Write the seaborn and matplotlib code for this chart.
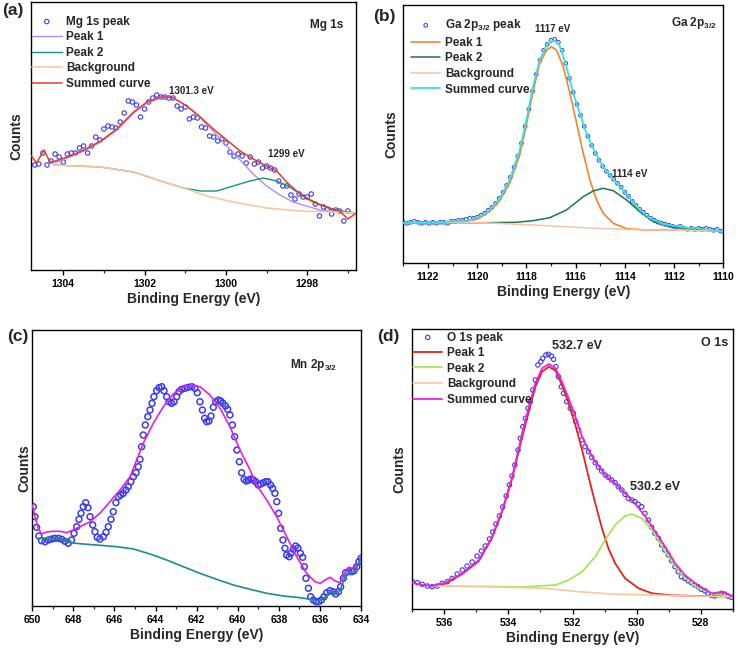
import numpy as np
import pandas as pd
import matplotlib
matplotlib.use("Agg")
import matplotlib.pyplot as plt
from matplotlib.ticker import MultipleLocator
import seaborn as sns

# ---------------- data: panel (a) Mg 1s ----------------
a_energy = list(np.round(1304.7 - 0.1 * np.arange(78), 2))
a_counts = [105, 106, 117, 105, 109, 116, 113, 108, 116, 117,
            117, 122, 124, 117, 124, 133, 130, 141, 144, 143,
            142, 148, 157, 169, 168, 165, 153, 161, 168, 172,
            175, 173, 173, 172, 172, 164, 161, 163, 151, 153,
            152, 143, 142, 134, 133, 129, 131, 127, 118, 114,
            116, 114, 107, 113, 106, 108, 102, 104, 102, 100,
            89, 84, 84, 75, 71, 76, 73, 73, 76, 66,
            54, 63, 61, 56, 60, 59, 49, 59]
a_sum_e = [1304.78, 1304.66, 1304.47, 1304.33, 1304.2, 1303.90, 1303.49, 1303.08, 1302.68, 1302.27,
           1301.94, 1301.61, 1301.45, 1301.29, 1300.96, 1300.63, 1300.31, 1299.98, 1299.65, 1299.33,
           1299.00, 1298.75, 1298.51, 1298.18, 1297.86, 1297.53, 1297.20, 1297.00, 1296.79]
a_sum = [114, 107, 120, 108, 109, 113, 120, 129, 141, 158,
         168, 173, 173, 172, 164, 153, 141, 130, 119, 111,
         104, 99, 88, 76, 68, 63, 59, 51, 57]
a_p1_e = [1304.23, 1303.90, 1303.49, 1303.08, 1302.68, 1302.27, 1301.94, 1301.61, 1301.45, 1301.29,
          1300.96, 1300.63, 1300.31, 1299.98, 1299.65, 1299.33, 1299.00, 1298.67, 1298.35, 1298.02,
          1297.69, 1297.37, 1296.81]
a_p1 = [107, 112, 119, 128, 140, 157, 167, 172, 173, 172,
        164, 152, 139, 124, 110, 96, 84, 75, 68, 64,
        60, 59, 57]
a_p2_e = [1304.23, 1303.08, 1302.27, 1301.61, 1301.04, 1300.63, 1300.23, 1299.82, 1299.41, 1299.08,
          1298.75, 1298.43, 1298.10, 1297.77, 1297.37, 1296.81]
a_p2 = [105, 103, 98, 89, 82, 79, 79, 84, 89, 92, 89, 83, 74, 67, 60, 57]
a_bg_e = [1304.23, 1303.08, 1302.27, 1301.61, 1301.04, 1300.47, 1299.82, 1299.00, 1298.18, 1297.37, 1296.81]
a_bg = [105, 103, 98, 89, 82, 74, 68, 62, 59, 58, 57]

# ---------------- data: panel (b) Ga 2p3/2 ----------------
b_energy = list(np.round(1123.0 - 0.15 * np.arange(87), 2))
b_counts = [41, 40, 41, 42, 41, 40, 41, 40, 41, 40,
            41, 41, 40, 42, 42, 43, 43, 44, 45, 45,
            46, 48, 50, 53, 56, 60, 65, 71, 78, 86,
            96, 107, 120, 137, 154, 172, 189, 203, 213, 219,
            223, 224, 221, 213, 200, 185, 171, 159, 148, 137,
            127, 118, 110, 103, 97, 92, 88, 84, 80, 76,
            71, 67, 62, 58, 54, 51, 48, 45, 43, 41,
            40, 39, 38, 37, 36, 37, 35, 34, 35, 34,
            35, 34, 35, 34, 33, 34, 32]
b_sum_e = [1123.0, 1121.8, 1120.44, 1119.9, 1119.49, 1119.08, 1118.68, 1118.27, 1118.0, 1117.73,
           1117.46, 1117.18, 1117.05, 1116.91, 1116.78, 1116.64, 1116.37, 1116.1, 1115.83, 1115.56,
           1115.29, 1115.01, 1114.61, 1114.2, 1113.79, 1113.39, 1112.98, 1112.44, 1111.63, 1110.67, 1110.0]
b_sum = [40.6, 40.9, 42.6, 46.6, 53.3, 65, 83.3, 113.3, 143.3, 176.6,
         203.3, 218.3, 221.5, 222.6, 221.5, 217, 196.6, 170, 150, 130,
         115, 101.6, 88.3, 76.6, 65, 53.3, 45, 39.3, 36, 34, 32.3]
b_p1_e = [1123.0, 1120.44, 1119.9, 1119.49, 1119.08, 1118.68, 1118.27, 1118.0, 1117.73, 1117.46,
          1117.18, 1116.98, 1116.78, 1116.5, 1116.23, 1115.96, 1115.69, 1115.42, 1115.15, 1114.88,
          1114.47, 1113.93, 1113.12, 1111.63, 1110.0]
b_p1 = [40.5, 42, 45.5, 52, 63, 80, 108.3, 138.3, 171.6, 200,
        213.3, 216.6, 213.3, 196.6, 170, 140, 110, 83.3, 63.3, 50,
        40, 34.6, 33.3, 33, 32.3]
b_p2_e = [1123.0, 1119.76, 1118.41, 1117.73, 1117.05, 1116.37, 1115.69, 1115.29, 1114.88, 1114.47,
          1113.93, 1113.39, 1112.84, 1112.03, 1110.94, 1110.0]
b_p2 = [40.6, 40.6, 41, 42.6, 45.6, 53.3, 66.6, 72.3, 75, 72.6, 63.3, 51.6, 41.6, 36, 34, 32.3]
b_bg_e = [1123.0, 1119.76, 1117.73, 1115.69, 1113.66, 1111.63, 1110.0]
b_bg = [40.6, 40.6, 38.3, 35.6, 33.6, 33, 32.3]

# ---------------- data: panel (c) Mn 2p3/2 ----------------
c_energy = [649.95, 649.87, 649.79, 649.68, 649.55, 649.38, 649.22, 649.06, 648.90, 648.73,
            648.57, 648.41, 648.25, 648.09, 647.97, 647.84, 647.73, 647.63, 647.52, 647.40,
            647.29, 647.19, 647.06, 646.95, 646.84, 646.71, 646.54, 646.41, 646.30, 646.17,
            646.06, 645.93, 645.81, 645.70, 645.57, 645.44, 645.33, 645.20, 645.08, 644.95,
            644.84, 644.76, 644.68, 644.60, 644.50, 644.38, 644.27, 644.17, 644.08, 643.95,
            643.83, 643.70, 643.59, 643.46, 643.35, 643.22, 643.10, 642.97, 642.86, 642.73,
            642.57, 642.41, 642.24, 642.08, 641.97, 641.84, 641.72, 641.61, 641.51, 641.40,
            641.30, 641.19, 641.07, 640.94, 640.83, 640.72, 640.60, 640.49, 640.38, 640.26,
            640.15, 640.04, 639.92, 639.81, 639.69, 639.58, 639.47, 639.35, 639.24, 639.13,
            639.00, 638.88, 638.75, 638.64, 638.53, 638.40, 638.30, 638.19, 638.10, 638.01,
            637.91, 637.80, 637.70, 637.62, 637.50, 637.41, 637.29, 637.18, 637.07, 636.95,
            636.84, 636.76, 636.68, 636.56, 636.45, 636.32, 636.19, 636.06, 635.93, 635.80,
            635.67, 635.51, 635.35, 635.23, 635.10, 634.99, 634.86, 634.75, 634.62, 634.45,
            634.34, 634.21, 634.10, 634.00]
c_counts = [99.3, 89.3, 78.7, 70.0, 65.3, 64.3, 66.0, 67.0, 67.7, 67.7,
            66.7, 64.7, 62.7, 66.0, 72.7, 79.3, 86.7, 92.7, 99.3, 103.3,
            98.3, 89.3, 81.0, 74.3, 68.7, 67.0, 69.3, 73.7, 79.3, 86.7,
            94.3, 103.3, 109.3, 111.0, 112.7, 116.0, 119.3, 124.3, 129.3, 133.3,
            139.3, 146.7, 159.3, 171.0, 181.0, 189.3, 196.0, 202.7, 209.3, 215.3,
            218.3, 219.3, 215.3, 209.3, 204.3, 202.7, 204.3, 209.3, 214.3, 216.7,
            217.7, 218.7, 219.3, 217.7, 213.3, 204.3, 196.0, 187.7, 184.3, 185.0,
            190.0, 198.7, 204.3, 206.0, 205.0, 202.7, 200.0, 196.7, 191.0, 181.0,
            169.3, 156.0, 144.3, 133.3, 126.7, 125.0, 126.0, 127.0, 126.0, 124.3,
            121.0, 122.0, 123.3, 124.3, 124.3, 121.0, 117.7, 112.7, 104.3, 92.7,
            77.7, 66.0, 57.7, 51.0, 49.3, 52.7, 56.7, 60.0, 58.0, 52.7,
            48.7, 39.3, 27.7, 17.7, 9.3, 6.0, 4.3, 4.3, 6.0, 9.3,
            13.3, 15.3, 14.3, 12.0, 14.3, 19.3, 27.7, 33.3, 34.3, 34.3,
            35.3, 39.3, 44.3, 47.7]
c_sum_e = [650.0, 649.87, 649.71, 649.55, 649.30, 648.98, 648.65, 648.33, 648.09, 647.68,
           647.19, 646.71, 646.22, 645.73, 645.24, 644.92, 644.60, 644.11, 643.62, 643.14,
           642.65, 642.24, 641.84, 641.35, 640.86, 640.38, 639.89, 639.40, 639.08, 638.59,
           638.10, 637.62, 637.13, 636.64, 636.24, 635.99, 635.75, 635.51, 635.26, 635.02,
           634.78, 634.62, 634.37, 634.13, 634.0]
c_sum = [101, 89.3, 77.7, 72, 74, 74.7, 74.7, 73.3, 75.3, 79.3,
         84.3, 92.7, 104.3, 116, 129.3, 146, 162.7, 182.7, 199.3, 212,
         219.3, 221, 219.3, 211, 197.7, 179.3, 156, 136, 121, 106,
         89.3, 69.3, 49.3, 32.7, 24.3, 22.7, 26, 28.7, 25, 23.3,
         32.7, 38.7, 37.7, 42.7, 48.7]
c_bg_e = [649.71, 649.46, 649.14, 648.82, 648.49, 648.17, 647.52, 646.71, 645.89, 645.08,
          644.27, 643.46, 642.65, 641.84, 641.03, 640.21, 639.40, 638.59, 637.78, 636.97,
          636.48, 636.08, 635.75, 635.51, 635.26, 635.02, 634.78, 634.53, 634.29, 634.0]
c_bg = [67.7, 67.7, 68.3, 67.7, 66, 63.3, 62, 60.7, 59.3, 57,
        52, 46, 39.3, 32.7, 26.7, 21, 16.7, 12.7, 10, 8.3,
        6.7, 5, 8.7, 14.3, 13.3, 15.3, 29.3, 33.3, 35.3, 46.7]

# ---------------- data: panel (d) O 1s ----------------
d_energy = [537.00, 536.84, 536.69, 536.53, 536.38, 536.22, 536.07, 535.91, 535.76, 535.60,
            535.44, 535.29, 535.13, 534.98, 534.84, 534.72, 534.59, 534.49, 534.39, 534.28,
            534.18, 534.07, 533.97, 533.89, 533.80, 533.70, 533.63, 533.55, 533.47, 533.39,
            533.32, 533.24, 533.16, 533.08, 532.99, 532.93, 532.83, 532.75, 532.66, 532.59,
            532.52, 532.44, 532.35, 532.28, 532.18, 532.07, 531.97, 531.90, 531.81, 531.71,
            531.61, 531.50, 531.40, 531.29, 531.19, 531.09, 530.98, 530.88, 530.78, 530.67,
            530.57, 530.46, 530.36, 530.26, 530.15, 530.05, 529.95, 529.84, 529.74, 529.63,
            529.53, 529.43, 529.32, 529.22, 529.12, 529.01, 528.91, 528.80, 528.70, 528.60,
            528.49, 528.39, 528.29, 528.18, 528.08, 527.98, 527.87, 527.77, 527.66, 527.56,
            527.46, 527.35, 527.25, 527.15, 527.04]
d_counts = [27.3, 26.3, 24.7, 23, 22.3, 23, 25.7, 27.3, 30.5, 35,
            39, 43, 47, 53, 58, 63, 70, 77, 85, 93,
            102, 113, 124, 133, 144, 159, 170.7, 182.3, 190.7, 200.7,
            207.3, 219, 229, 244, 247.3, 250.7, 254, 254.7, 253, 249.7,
            242.3, 232.3, 222.3, 215.7, 207.3, 200.7, 195.7, 187.3, 179, 169,
            162.3, 157.3, 151.7, 146.3, 141.7, 138, 134, 131.7, 129, 126.3,
            122.3, 119, 114.7, 110.7, 109, 107.3, 104.7, 102.3, 95.7, 89,
            81.7, 75.7, 70.7, 64, 59, 54, 48.3, 42.3, 37.3, 32.3,
            30.7, 28.3, 26.3, 24, 22.3, 19.7, 18.3, 15.7, 13.7, 13,
            14.7, 15.7, 15, 13, 11.7]
d_sum_e = [537.0, 536.68, 536.37, 535.96, 535.44, 534.92, 534.51, 534.19, 533.88, 533.57,
           533.36, 533.16, 532.95, 532.74, 532.53, 532.33, 532.12, 531.91, 531.70, 531.50,
           531.29, 530.98, 530.67, 530.36, 530.05, 529.73, 529.42, 529.11, 528.80, 528.49,
           528.07, 527.66, 527.29, 527.0]
d_sum = [26.3, 24, 23, 26.3, 35.7, 49, 72.3, 99, 132.3, 175.7,
         202.3, 225.7, 240.7, 245, 240.7, 227.3, 210.7, 192.3, 172.3, 159,
         147.3, 134, 125.7, 115.7, 105.7, 92.3, 77.3, 62.3, 45.7, 34,
         23, 15.7, 16.7, 12.3]
d_p1_e = [536.37, 535.96, 535.44, 534.92, 534.51, 534.19, 533.88, 533.57, 533.16, 532.95,
          532.74, 532.53, 532.33, 532.12, 531.91, 531.70, 531.50, 531.29, 531.08, 530.88,
          530.67, 530.36, 529.94, 529.52, 528.90, 528.07, 527.0]
d_p1 = [23, 25.5, 35, 48, 71.5, 98, 131, 172.3, 222.3, 237.3,
        242.3, 238.3, 224, 205.7, 184, 159, 132.3, 105.7, 80.7, 60.7,
        45.7, 30.7, 20.7, 15.7, 13.7, 13, 12.3]
d_p2_e = [536.37, 534.5, 533.57, 532.53, 532.12, 531.70, 531.29, 530.98, 530.67, 530.36,
          530.15, 529.84, 529.52, 529.21, 528.90, 528.59, 528.17, 527.66, 527.0]
d_p2 = [23, 22.5, 22, 24, 29, 37.3, 52.3, 69, 84, 93, 95, 90.7, 79, 62.3, 47.3, 34, 22.3, 15.7, 12.3]
d_bg_e = [536.37, 534.92, 532.85, 531.81, 530.78, 528.70, 527.0]
d_bg = [23.3, 22.3, 20.7, 17.3, 15, 13.3, 12.3]

legend_labels = ["Peak 1", "Peak 2", "Background", "Summed curve"]

# ---------------- style ----------------
sns.set_theme(style="ticks")
plt.rcParams["font.family"] = ["Liberation Sans", "DejaVu Sans"]
plt.rcParams["font.weight"] = "bold"
plt.rcParams["axes.labelweight"] = "bold"
plt.rcParams["mathtext.fontset"] = "custom"
plt.rcParams["mathtext.rm"] = "Liberation Sans:bold"
plt.rcParams["mathtext.it"] = "Liberation Sans:bold"
plt.rcParams["mathtext.bf"] = "Liberation Sans:bold"
plt.rcParams["axes.linewidth"] = 1.0
plt.rcParams["axes.edgecolor"] = "black"

W, H = 741, 649
fig = plt.figure(figsize=(W / 100, H / 100), dpi=100)
fig.patch.set_facecolor("white")


def make_axes(l, t, r, b):
    return fig.add_axes([l / W, 1 - b / H, (r - l) / W, (b - t) / H])


BLUE = "#3b3bf2"


def draw_scatter(ax, x, y, s, lw):
    sns.scatterplot(x=x, y=y, ax=ax, marker="o", s=s, color=BLUE, linewidth=lw, zorder=2)
    coll = ax.collections[-1]
    coll.set_facecolor("none")
    coll.set_edgecolor(BLUE)
    coll.set_linewidth(lw)
    return coll


def draw_line(ax, x, y, color, lw):
    sns.lineplot(x=x, y=y, ax=ax, color=color, linewidth=lw, sort=False, estimator=None, zorder=3)
    return ax.lines[-1]


def style_axes(ax, xmax, xmin, major, ytop, ylabelpad):
    ax.set_xlim(xmax, xmin)
    ax.set_ylim(0, ytop)
    ax.xaxis.set_major_locator(MultipleLocator(major))
    ax.xaxis.set_minor_locator(MultipleLocator(major / 2))
    ax.tick_params(axis="x", which="major", direction="out", length=3.5, width=1.0,
                   labelsize=7.5, pad=3, colors="black")
    ax.tick_params(axis="x", which="minor", direction="out", length=2.5, width=0.9)
    for lab in ax.get_xticklabels():
        lab.set_fontweight("bold")
    ax.set_yticks([])
    ax.set_xlabel("Binding Energy (eV)", fontsize=10, fontweight="bold", labelpad=2)
    ax.set_ylabel("Counts", fontsize=10, fontweight="bold", labelpad=ylabelpad)
    for sp in ax.spines.values():
        sp.set_visible(True)
        sp.set_color("black")
        sp.set_linewidth(1.0)


def add_legend(ax, handles, labels, fx, fy):
    leg = ax.legend(handles, labels, loc="upper left", bbox_to_anchor=(fx, fy), frameon=False,
                    fontsize=8.5, handlelength=2.5, handletextpad=0.4, labelspacing=0.3,
                    borderpad=0, borderaxespad=0, scatterpoints=1)
    for t in leg.get_texts():
        t.set_fontweight("bold")
    return leg


# ---------------- panel (a) ----------------
ax = make_axes(30.7, 2, 356, 270)
h0 = draw_scatter(ax, a_energy, a_counts, 10, 0.8)
h1 = draw_line(ax, a_p1_e, a_p1, "#b48be2", 1.0)
h2 = draw_line(ax, a_p2_e, a_p2, "#17908a", 1.0)
h3 = draw_line(ax, a_bg_e, a_bg, "#f8c9a0", 1.2)
h4 = draw_line(ax, a_sum_e, a_sum, "#ea3a2a", 1.1)
style_axes(ax, 1304.8, 1296.8, 2, 268, 5)
ax.text(1301.4, 179, "1301.3 eV", fontsize=7, fontweight="bold", ha="left", va="center")
ax.text(1298.97, 116, "1299 eV", fontsize=7, fontweight="bold", ha="left", va="center")
ax.text(0.962, 0.915, "Mg 1s", transform=ax.transAxes, fontsize=8.5, fontweight="bold",
        ha="right", va="center")
add_legend(ax, [h0, h1, h2, h3, h4], ["Mg 1s peak"] + legend_labels, 0.004, 0.949)

# ---------------- panel (b) ----------------
ax = make_axes(403.3, 5, 723.3, 263.3)
h0 = draw_scatter(ax, b_energy, b_counts, 7, 0.7)
h1 = draw_line(ax, b_p1_e, b_p1, "#f5842c", 1.2)
h2 = draw_line(ax, b_p2_e, b_p2, "#1b7a42", 1.1)
h3 = draw_line(ax, b_bg_e, b_bg, "#f6c3a8", 1.1)
h4 = draw_line(ax, b_sum_e, b_sum, "#30e4e0", 1.3)
style_axes(ax, 1123, 1110, 2, 258.3, 3.6)
ax.text(1117.63, 234, "1117 eV", fontsize=7, fontweight="bold", ha="left", va="center")
ax.text(1114.51, 89.3, "1114 eV", fontsize=7, fontweight="bold", ha="left", va="center")
ax.text(0.98, 0.929, r"Ga 2p$_{3/2}$", transform=ax.transAxes, fontsize=8.5, fontweight="bold",
        ha="right", va="center")
add_legend(ax, [h0, h1, h2, h3, h4], [r"Ga 2p$_{3/2}$ peak"] + legend_labels, 0.024, 0.952)

# ---------------- panel (c) ----------------
ax = make_axes(32.3, 330, 361, 606)
draw_scatter(ax, c_energy, c_counts, 18, 1.1)
draw_line(ax, c_sum_e, c_sum, "#e81fe0", 1.2)
draw_line(ax, c_bg_e, c_bg, "#17908a", 1.2)
style_axes(ax, 650, 634, 2, 276, 0.8)
ax.text(0.927, 0.873, r"Mn 2p$_{3/2}$", transform=ax.transAxes, fontsize=8.5, fontweight="bold",
        ha="right", va="center")

# ---------------- panel (d) ----------------
ax = make_axes(412.3, 329, 732.7, 609)
h0 = draw_scatter(ax, d_energy, d_counts, 10, 0.8)
h1 = draw_line(ax, d_p1_e, d_p1, "#e8201e", 1.3)
h2 = draw_line(ax, d_p2_e, d_p2, "#9be84e", 1.2)
h3 = draw_line(ax, d_bg_e, d_bg, "#f8c9a0", 1.2)
h4 = draw_line(ax, d_sum_e, d_sum, "#ec22dc", 1.3)
style_axes(ax, 537, 527, 2, 280, 4.3)
ax.text(532.65, 263, "532.7 eV", fontsize=9, fontweight="bold", ha="left", va="center")
ax.text(530.21, 122.3, "530.2 eV", fontsize=9, fontweight="bold", ha="left", va="center")
ax.text(0.985, 0.95, "O 1s", transform=ax.transAxes, fontsize=9, fontweight="bold",
        ha="right", va="center")
add_legend(ax, [h0, h1, h2, h3, h4], ["O 1s peak"] + legend_labels, 0.002, 0.991)

# ---------------- panel letters ----------------
for txt, px, py in [("(a)", 2, 10), ("(b)", 373, 16), ("(c)", 7, 336), ("(d)", 377, 336)]:
    fig.text(px / W, 1 - py / H, txt, fontsize=12.5, fontweight="bold", ha="left", va="center")

fig.savefig("out.png", dpi=100)
